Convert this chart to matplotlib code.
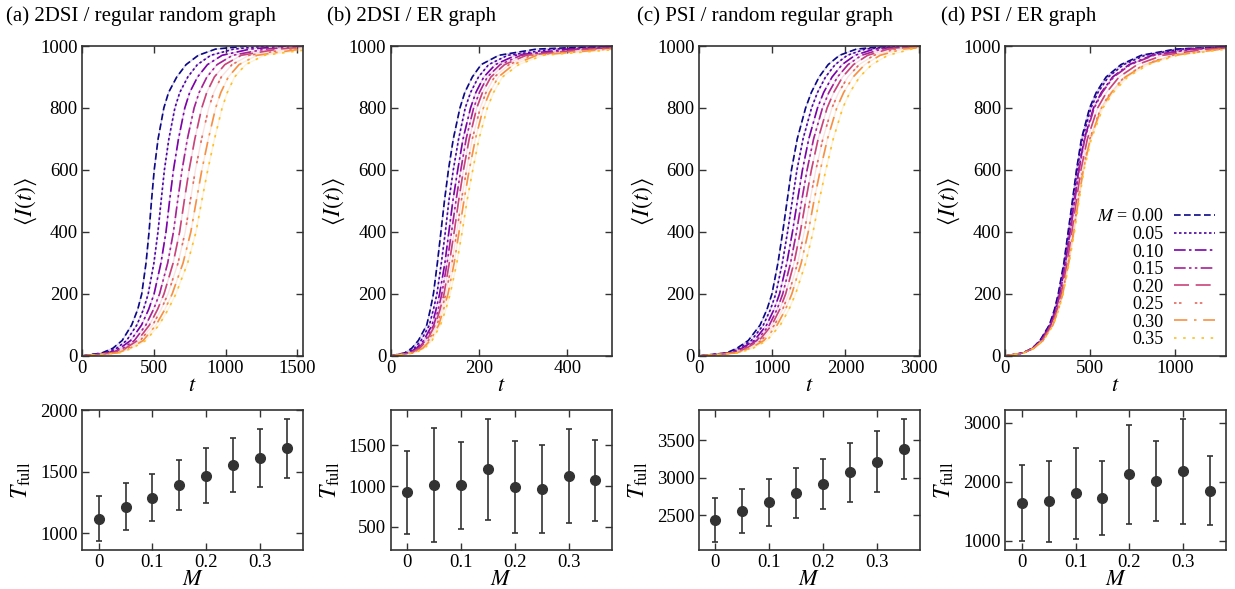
import matplotlib.pyplot as plt
import numpy as np

plt.rcParams['font.family'] = ['Liberation Serif', 'DejaVu Serif']
plt.rcParams['mathtext.fontset'] = 'stix'

M_values = [0.00, 0.05, 0.10, 0.15, 0.20, 0.25, 0.30, 0.35]
I_levels = [0, 10, 25, 50, 100, 150, 200, 300, 400, 500, 600, 700, 800, 850, 900, 940, 970, 990, 1000]

# (a) 2DSI / regular random graph: time t at each level in I_levels, one row per M
t_a = [
    [0, 140, 215, 280, 346, 388, 416, 446, 467, 484, 503, 530, 570, 603, 660, 725, 810, 930, 1150],
    [0, 163, 241, 311, 382, 428, 461, 501, 529, 551, 574, 605, 647, 681, 737, 804, 897, 1057, 1293],
    [0, 183, 264, 339, 415, 464, 502, 550, 585, 610, 637, 672, 716, 750, 805, 874, 976, 1171, 1420],
    [0, 202, 285, 365, 445, 498, 540, 597, 637, 666, 697, 734, 781, 816, 870, 941, 1049, 1278, 1540],
    [0, 218, 303, 387, 470, 526, 571, 635, 680, 712, 746, 786, 834, 869, 922, 995, 1109, 1366, 1638],
    [0, 232, 319, 406, 493, 551, 599, 669, 719, 754, 790, 833, 883, 918, 970, 1045, 1164, 1446, 1728],
    [0, 247, 335, 426, 516, 577, 628, 704, 758, 796, 835, 880, 931, 967, 1019, 1094, 1219, 1526, 1818],
    [0, 260, 350, 444, 537, 600, 654, 736, 794, 834, 876, 923, 976, 1012, 1063, 1140, 1270, 1600, 1900],
]
# (b) 2DSI / ER graph
t_b = [
    [0, 32, 48, 63, 82, 90, 97, 106, 114, 122, 131, 142, 157, 168, 185, 205, 245, 330, 500],
    [0, 37, 54, 69, 88, 97, 105, 115, 124, 132, 142, 154, 169, 181, 199, 222, 265, 368, 540],
    [0, 41, 59, 75, 94, 103, 111, 123, 132, 141, 152, 164, 181, 193, 211, 237, 283, 402, 576],
    [0, 44, 63, 79, 98, 108, 116, 128, 138, 148, 159, 171, 188, 201, 219, 248, 295, 425, 600],
    [0, 46, 66, 82, 101, 112, 121, 133, 144, 154, 165, 178, 195, 208, 227, 258, 307, 448, 624],
    [0, 49, 70, 86, 105, 116, 125, 139, 150, 160, 172, 185, 203, 216, 235, 268, 319, 471, 648],
    [0, 52, 73, 90, 109, 120, 130, 144, 155, 166, 178, 192, 210, 224, 244, 278, 331, 493, 672],
    [0, 55, 77, 94, 113, 125, 135, 150, 162, 173, 186, 200, 219, 233, 253, 290, 345, 520, 700],
]
# (c) PSI / random regular graph
t_c = [
    [0, 380, 520, 676, 837, 930, 998, 1080, 1145, 1205, 1264, 1343, 1457, 1535, 1641, 1765, 1920, 2150, 2600],
    [0, 406, 555, 717, 881, 978, 1050, 1140, 1211, 1275, 1339, 1422, 1538, 1619, 1729, 1860, 2026, 2270, 2728],
    [0, 431, 590, 757, 925, 1026, 1101, 1201, 1278, 1345, 1414, 1500, 1619, 1703, 1818, 1955, 2131, 2390, 2856],
    [0, 453, 620, 791, 963, 1067, 1145, 1252, 1333, 1403, 1477, 1566, 1687, 1774, 1892, 2036, 2220, 2491, 2964],
    [0, 473, 648, 823, 997, 1104, 1185, 1299, 1385, 1458, 1536, 1628, 1750, 1840, 1961, 2110, 2303, 2585, 3064],
    [0, 494, 676, 856, 1033, 1143, 1227, 1348, 1439, 1515, 1597, 1692, 1816, 1908, 2033, 2188, 2389, 2683, 3168],
    [0, 514, 705, 889, 1069, 1182, 1269, 1397, 1493, 1571, 1658, 1755, 1882, 1976, 2105, 2265, 2474, 2780, 3272],
    [0, 540, 740, 929, 1113, 1230, 1320, 1457, 1559, 1641, 1733, 1834, 1963, 2060, 2193, 2360, 2580, 2900, 3400],
]
# (d) PSI / ER graph
t_d = [
    [0, 105, 160, 205, 260, 290, 312, 345, 370, 395, 419, 448, 496, 535, 593, 680, 800, 1000, 1400],
    [0, 106, 161, 207, 262, 293, 315, 348, 374, 399, 423, 454, 504, 545, 606, 696, 821, 1030, 1435],
    [0, 107, 163, 211, 267, 298, 321, 354, 381, 407, 432, 465, 519, 565, 631, 728, 863, 1090, 1505],
    [0, 107, 164, 212, 268, 299, 322, 356, 383, 409, 434, 468, 523, 570, 637, 736, 874, 1105, 1523],
    [0, 108, 166, 217, 274, 305, 329, 364, 392, 418, 445, 483, 543, 595, 669, 776, 926, 1180, 1610],
    [0, 109, 169, 222, 280, 311, 337, 371, 402, 428, 456, 497, 562, 620, 700, 816, 979, 1255, 1698],
    [0, 110, 169, 223, 281, 313, 338, 373, 403, 430, 459, 500, 566, 625, 706, 824, 989, 1270, 1715],
    [0, 110, 170, 225, 283, 315, 341, 376, 407, 434, 463, 506, 574, 635, 719, 840, 1010, 1300, 1750],
]

# T_full mean and spread for each M
Tfull_a = [1120, 1215, 1290, 1392, 1468, 1554, 1614, 1690]
Tfull_a_err = [185, 190, 193, 200, 220, 216, 235, 240]
Tfull_b = [922, 1016, 1008, 1205, 988, 967, 1120, 1072]
Tfull_b_err = [510, 700, 533, 622, 563, 543, 578, 495]
Tfull_c = [2445, 2555, 2677, 2801, 2914, 3073, 3217, 3383]
Tfull_c_err = [292, 292, 314, 332, 334, 392, 402, 400]
Tfull_d = [1633, 1667, 1807, 1728, 2124, 2011, 2178, 1851]
Tfull_d_err = [644, 689, 773, 633, 839, 676, 893, 583]

titles = ['(a) 2DSI / regular random graph', '(b) 2DSI / ER graph',
          '(c) PSI / random regular graph', '(d) PSI / ER graph']

colors = plt.cm.plasma(np.linspace(0.0, 0.86, 8))
styles = [(0, (4, 2)), (0, (1.5, 1.5)), (0, (7, 2, 1.5, 2)), (0, (7, 2, 1.5, 2, 1.5, 2)),
          (0, (9, 4)), (0, (1.5, 1.5, 1.5, 8)), (0, (8, 4, 1.5, 4)), (0, (1.5, 4))]

curves = [t_a, t_b, t_c, t_d]
tfull = [Tfull_a, Tfull_b, Tfull_c, Tfull_d]
tfull_err = [Tfull_a_err, Tfull_b_err, Tfull_c_err, Tfull_d_err]

xlims = [1540, 500, 3015, 1297]
xticks = [[0, 500, 1000, 1500], [0, 200, 400], [0, 1000, 2000, 3000], [0, 500, 1000]]
bottom_ylims = [(865, 2000), (215, 1935), (2040, 3905), (840, 3220)]
bottom_yticks = [[1000, 1500, 2000], [500, 1000, 1500], [2500, 3000, 3500], [1000, 2000, 3000]]

lefts = [0.0664, 0.3162, 0.5658, 0.8138]
title_x = [0.005, 0.265, 0.516, 0.762]

fig = plt.figure(figsize=(12.35, 5.89), dpi=100)


def style_axes(ax):
    ax.tick_params(direction='in', top=True, right=True, labelsize=13.5, length=5,
                   width=1.0, color='#333333', pad=3)
    for sp in ax.spines.values():
        sp.set_linewidth(1.2)
        sp.set_color('#333333')


for k in range(4):
    ax = fig.add_axes([lefts[k], 0.3956, 0.179, 0.5263])
    for j in range(8):
        ax.plot(curves[k][j], I_levels, color=colors[j], lw=1.0, alpha=0.18)
        ax.plot(curves[k][j], I_levels, color=colors[j], lw=1.2, linestyle=styles[j],
                label=(r'$M$ = %.2f' % M_values[j]) if j == 0 else '%.2f' % M_values[j])
    ax.set_xlim(0, xlims[k])
    ax.set_ylim(0, 1000)
    ax.set_xticks(xticks[k])
    ax.set_yticks([0, 200, 400, 600, 800, 1000])
    ax.set_xlabel(r'$t$', fontsize=16, labelpad=0)
    ax.set_ylabel(r'$\langle I(t)\rangle$', fontsize=17, labelpad=1)
    style_axes(ax)
    fig.text(title_x[k], 0.972, titles[k], fontsize=15, ha='left', va='center')
    if k == 3:
        ax.legend(loc='lower right', bbox_to_anchor=(1.0, -0.01), frameon=False, markerfirst=False,
                  fontsize=13, handlelength=2.3, handletextpad=0.55, labelspacing=0.03,
                  borderaxespad=0.2)

    bx = fig.add_axes([lefts[k], 0.0662, 0.179, 0.2377])
    bx.errorbar(M_values, tfull[k], yerr=tfull_err[k], fmt='o', color='#333333',
                ms=7, elinewidth=1.2, capsize=2.5, capthick=1.2)
    bx.set_xlim(-0.031, 0.38)
    bx.set_xticks([0, 0.1, 0.2, 0.3])
    bx.set_xticklabels(['0', '0.1', '0.2', '0.3'])
    bx.set_ylim(*bottom_ylims[k])
    bx.set_yticks(bottom_yticks[k])
    bx.set_xlabel(r'$M$', fontsize=16, labelpad=0)
    bx.set_ylabel(r'$T_{\rm full}$', fontsize=17, labelpad=5)
    style_axes(bx)

fig.savefig('out.png', dpi=100)
